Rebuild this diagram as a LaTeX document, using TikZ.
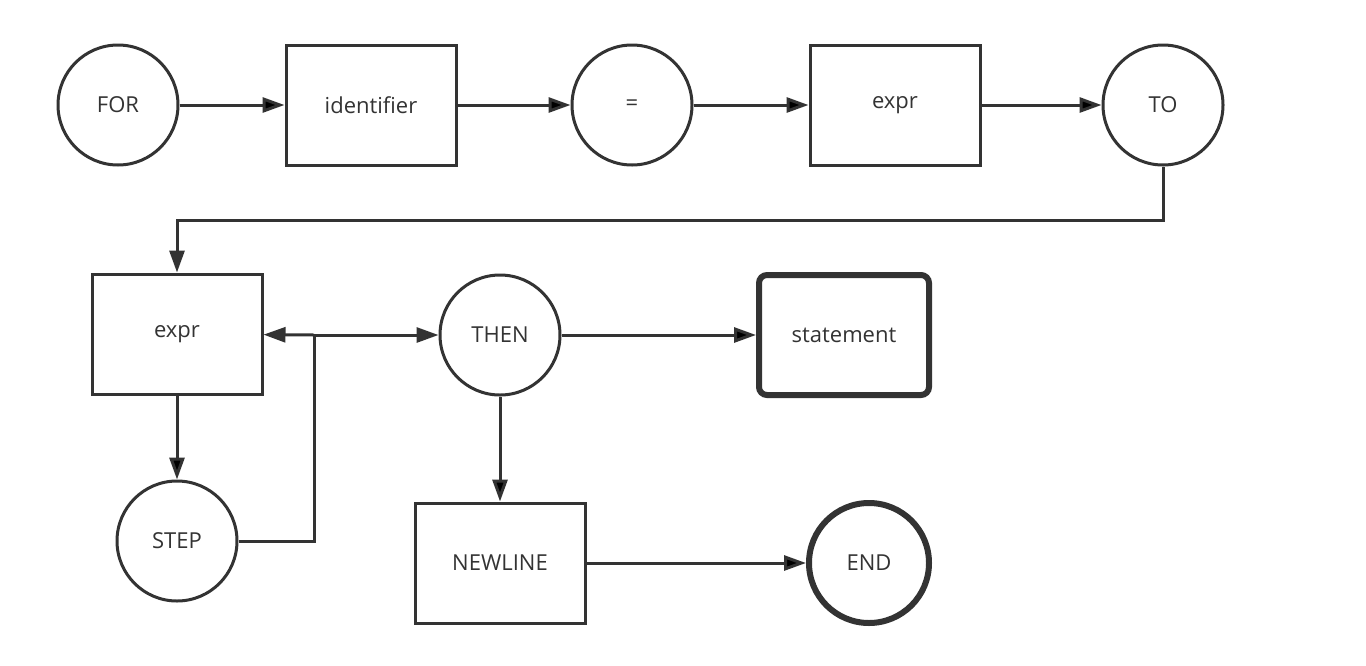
\documentclass[tikz,border=0pt]{standalone}
\usepackage{fontspec}
\setmainfont{Open Sans}
\usetikzlibrary{arrows.meta}
\definecolor{ink}{HTML}{333333}

\begin{document}
\begin{tikzpicture}[x=0.5pt,y=-0.5pt,
  every node/.style={font=\fontsize{11}{13}\selectfont,text=ink},
  term/.style={circle,draw=ink,line width=1.5pt,minimum size=60pt,inner sep=0pt},
  rule/.style={rectangle,draw=ink,line width=1.5pt,minimum width=85pt,minimum height=60pt,inner sep=0pt},
  final/.style={line width=3pt},
  wire/.style={draw=ink,line width=1.5pt},
  flow/.style={wire,-{Triangle[length=11pt,width=7.5pt]}}]
  \useasboundingbox (0,0) rectangle (1366,665);
  \node[term] (for) at (118,105) {FOR};
  \node[rule] (ident) at (371,105) {identifier};
  \node[term] (eq) at (632,105) {=};
  \node[rule] (expr) at (895,105) {expr};
  \node[term] (to) at (1163,105) {TO};
  \node[rule] (expr2) at (177,334) {expr};
  \node[term] (then) at (500,335) {THEN};
  \node[rule,final,rounded corners=4pt] (stmt) at (844,335) {statement};
  \node[term] (step) at (177,541) {STEP};
  \node[rule] (newline) at (500,563) {NEWLINE};
  \node[term,final] (end) at (869,563) {END};
  \coordinate (bend) at (177,220);
  \coordinate (join) at (314,335);
  \path[flow]
    (for) edge (ident)
    (ident) edge (eq)
    (eq) edge (expr)
    (expr) edge (to)
    (expr2) edge (step)
    (then) edge (stmt)
    (then) edge (newline)
    (newline) edge (end);
  \draw[flow] (to) |- (bend) -- (expr2);
  \draw[wire] (step) -| (join);
  \draw[flow] (join) -- (expr2);
  \draw[flow] (join) -- (then);
\end{tikzpicture}
\end{document}
